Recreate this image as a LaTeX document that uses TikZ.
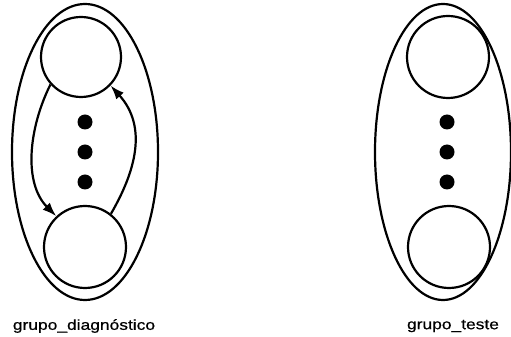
\documentclass[tikz,border=0pt]{standalone}
\usepackage{fontspec}
\newfontfamily\grpfont[FakeStretch=1.2,FakeBold=0.6]{Liberation Sans}
\usetikzlibrary{shapes.geometric,arrows.meta}
\tikzset{
  grupo/.style={draw, ellipse, line width=2.2pt, inner sep=0pt, minimum width=#1, minimum height=296pt},
  processo/.style={draw, circle, line width=2.2pt, inner sep=0pt, minimum size=#1},
  ponto/.style={fill, circle, inner sep=0pt, minimum size=15pt},
  rotulo/.style={font=\grpfont\fontsize{14.5}{16}\selectfont},
  elo/.style={line width=2.2pt, -{Latex[length=14pt,width=10pt]}}
}
\begin{document}
\begin{tikzpicture}[x=1pt, y=1pt]
    \useasboundingbox (0,0) rectangle (511,337);

    % Left group: outer ellipse with two processes and a ring of links
    \node[grupo=146pt] (gd) at (85,185) {};
    \node[processo=80pt] (d1) at (81,280) {};
    \node[processo=82pt] (dn) at (85,90) {};
    \node[ponto] (da) at (85,215) {};
    \node[ponto] (db) at (85,185) {};
    \node[ponto] (dc) at (85,155) {};

    % Links between the first and the last process
    \draw[elo] (d1.-138) .. controls +(-22,-44) and +(-33,33) .. (dn.133);
    \draw[elo] (dn.52) .. controls +(25,43) and +(37,-41) .. (d1.-44);

    \node[rotulo] (ld) at (84,11) {grupo\_diagnóstico};

    % Right group: same layout with no links
    \node[grupo=136pt] (gt) at (443,185) {};
    \node[processo=82pt] (t1) at (448,280) {};
    \node[processo=82pt] (tn) at (449,90) {};
    \node[ponto] (ta) at (447,215) {};
    \node[ponto] (tb) at (447,185) {};
    \node[ponto] (tc) at (447,155) {};

    \node[rotulo] (lt) at (453,11) {grupo\_teste};
\end{tikzpicture}
\end{document}
